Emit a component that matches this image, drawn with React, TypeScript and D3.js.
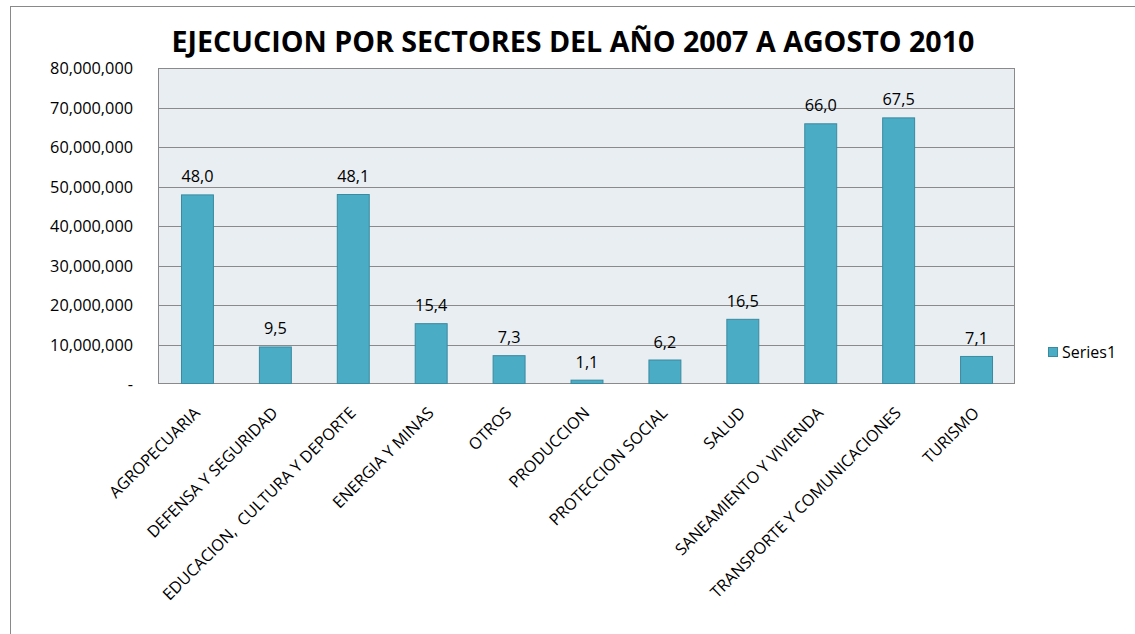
import React from "react";
import * as d3 from "d3";

const categories = [
  "AGROPECUARIA",
  "DEFENSA Y SEGURIDAD",
  "EDUCACION,  CULTURA Y DEPORTE",
  "ENERGIA Y MINAS",
  "OTROS",
  "PRODUCCION",
  "PROTECCION SOCIAL",
  "SALUD",
  "SANEAMIENTO Y VIVIENDA",
  "TRANSPORTE Y COMUNICACIONES",
  "TURISMO",
];
const values = [48.0, 9.5, 48.1, 15.4, 7.3, 1.1, 6.2, 16.5, 66.0, 67.5, 7.1].map((v) => v * 1e6);
const dataLabels = ["48,0", "9,5", "48,1", "15,4", "7,3", "1,1", "6,2", "16,5", "66,0", "67,5", "7,1"];
const yTicks = [0, 10e6, 20e6, 30e6, 40e6, 50e6, 60e6, 70e6, 80e6];
const title = "EJECUCION POR SECTORES DEL AÑO 2007 A AGOSTO 2010";
const seriesName = "Series1";

const W = 1135;
const H = 634;
const plot = { left: 158, right: 1015, top: 68, bottom: 384 };
const FONT = "'Open Sans', 'DejaVu Sans', sans-serif";

export default function App() {
  const x = d3
    .scaleBand<string>()
    .domain(categories)
    .range([plot.left, plot.right])
    .paddingInner(0.59)
    .paddingOuter(0.295);
  const y = d3.scaleLinear().domain([0, 80e6]).range([plot.bottom, plot.top]);
  const fmt = (v: number) => (v === 0 ? "-" : d3.format(",")(v));

  return (
    <svg
      width={W}
      height={H}
      style={{ position: "absolute", left: 0, top: 0, background: "#fff" }}
      fontFamily={FONT}
    >
      <rect x={10.5} y={6.5} width={W + 20} height={H + 20} fill="#fff" stroke="#898989" strokeWidth={1} />
      <text
        x={573}
        y={52}
        textAnchor="middle"
        fontSize={28}
        fontWeight="bold"
        fill="#000"
        textLength={803}
        lengthAdjust="spacingAndGlyphs"
      >
        {title}
      </text>
      <rect
        x={plot.left}
        y={plot.top}
        width={plot.right - plot.left}
        height={plot.bottom - plot.top}
        fill="#E8EEF2"
      />
      {yTicks.slice(1, -1).map((t) => (
        <line
          key={t}
          x1={plot.left}
          x2={plot.right}
          y1={Math.round(y(t)) + 0.5}
          y2={Math.round(y(t)) + 0.5}
          stroke="#8a8a8a"
          strokeWidth={1}
        />
      ))}
      <rect
        x={plot.left + 0.5}
        y={plot.top + 0.5}
        width={plot.right - plot.left - 1}
        height={plot.bottom - plot.top - 1}
        fill="none"
        stroke="#8a8a8a"
        strokeWidth={1}
      />
      {yTicks.map((t) => (
        <text key={t} x={133} y={y(t) + 6} textAnchor="end" fontSize={16.3} fill="#000">
          {fmt(t)}
        </text>
      ))}
      {categories.map((c, i) => {
        const bx = x(c)!;
        const by = y(values[i]);
        return (
          <g key={c}>
            <rect
              x={bx + 0.5}
              y={by + 0.5}
              width={x.bandwidth()}
              height={plot.bottom - by - 1}
              fill="#4BACC6"
              stroke="#3A8AA0"
              strokeWidth={1}
            />
            <text x={bx + x.bandwidth() / 2 + 0.5} y={by - 12} textAnchor="middle" fontSize={16.3} fill="#000">
              {dataLabels[i]}
            </text>
            <text
              transform={`translate(${bx + x.bandwidth() / 2 + 4},${plot.bottom + 30}) rotate(-45)`}
              textAnchor="end"
              fontSize={16.2}
              fill="#000"
              style={{ whiteSpace: "pre" }}
            >
              {c}
            </text>
          </g>
        );
      })}
      <rect x={1048.5} y={347.5} width={9} height={9} fill="#4BACC6" stroke="#3A8AA0" />
      <text x={1062} y={358} fontSize={16} fill="#000">
        {seriesName}
      </text>
    </svg>
  );
}
